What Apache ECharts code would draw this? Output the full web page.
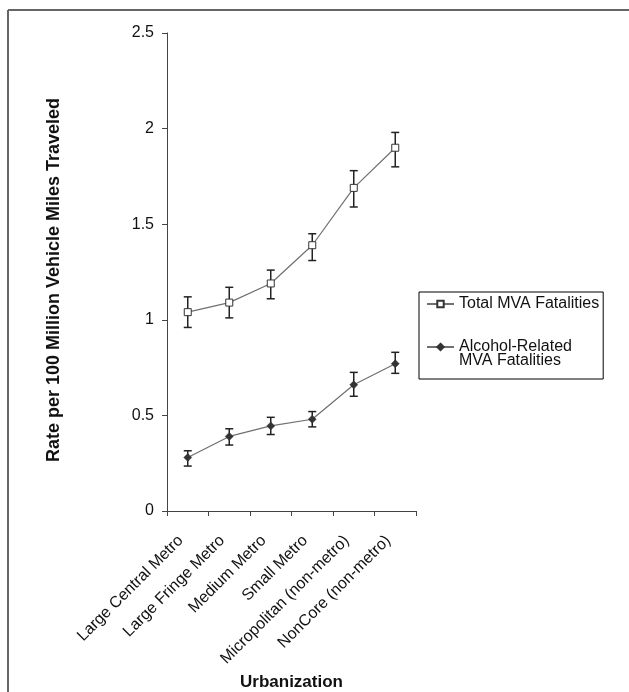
<!DOCTYPE html>
<html>
<head>
<meta charset="utf-8">
<script src="https://cdn.jsdelivr.net/npm/echarts@6/dist/echarts.min.js"></script>
<style>
html,body{margin:0;padding:0;background:#fff;}
#main{width:629px;height:692px;}
</style>
</head>
<body>
<div id="main"></div>
<script>
var categories = ['Large Central Metro', 'Large Fringe Metro', 'Medium Metro', 'Small Metro', 'Micropolitan (non-metro)', 'NonCore (non-metro)'];
var yTicks = [0, 0.5, 1, 1.5, 2, 2.5];
var totalRate = [1.04, 1.09, 1.19, 1.39, 1.69, 1.90];
var totalLow = [0.96, 1.01, 1.11, 1.31, 1.59, 1.80];
var totalHigh = [1.12, 1.17, 1.26, 1.45, 1.78, 1.98];
var alcRate = [0.28, 0.39, 0.445, 0.48, 0.66, 0.77];
var alcLow = [0.235, 0.345, 0.40, 0.44, 0.60, 0.72];
var alcHigh = [0.315, 0.43, 0.49, 0.52, 0.725, 0.83];

var FONT = "'Liberation Sans', Arial, sans-serif";

function errData(low, high) {
  return categories.map(function (c, i) { return [i, low[i], high[i]]; });
}
function renderErr(params, api) {
  var x = api.value(0);
  var lo = api.coord([x, api.value(1)]);
  var hi = api.coord([x, api.value(2)]);
  var hw = 4;
  var st = { stroke: '#222', lineWidth: 1.5, fill: null };
  return {
    type: 'group',
    children: [
      { type: 'line', shape: { x1: lo[0], y1: lo[1], x2: hi[0], y2: hi[1] }, style: st },
      { type: 'line', shape: { x1: lo[0] - hw, y1: lo[1], x2: lo[0] + hw, y2: lo[1] }, style: st },
      { type: 'line', shape: { x1: hi[0] - hw, y1: hi[1], x2: hi[0] + hw, y2: hi[1] }, style: st }
    ]
  };
}

var chart = echarts.init(document.getElementById('main'), null, { renderer: 'canvas' });
chart.setOption({
  animation: false,
  backgroundColor: '#fff',
  textStyle: { fontFamily: FONT },
  grid: { left: 167, top: 33, right: 213, bottom: 181, containLabel: false, outerBoundsMode: 'none' },
  graphic: [
    { type: 'line', shape: { x1: 8, y1: 10, x2: 629, y2: 10 }, style: { stroke: '#666', lineWidth: 2 } },
    { type: 'line', shape: { x1: 8, y1: 10, x2: 8, y2: 692 }, style: { stroke: '#666', lineWidth: 2 } }
  ],
  legend: {
    orient: 'vertical',
    left: 419,
    top: 292,
    padding: [4, 4, 10, 7],
    itemGap: 13,
    itemWidth: 27,
    itemHeight: 8,
    borderColor: '#000',
    borderWidth: 1,
    selectedMode: false,
    formatter: function (name) {
      return name.indexOf('\n') >= 0 ? '\n' + name : name;
    },
    textStyle: { fontFamily: FONT, fontSize: 16, color: '#111', lineHeight: 14 },
    data: ['Total MVA Fatalities', 'Alcohol-Related\nMVA Fatalities']
  },
  xAxis: {
    type: 'category',
    data: categories,
    boundaryGap: true,
    name: 'Urbanization',
    nameLocation: 'middle',
    nameGap: 160,
    nameTextStyle: { fontFamily: FONT, fontSize: 17, fontWeight: 'bold', color: '#111', verticalAlign: 'top' },
    axisLine: { show: true, lineStyle: { color: '#444', width: 1 } },
    axisTick: { show: true, length: 5, inside: false, lineStyle: { color: '#444' } },
    axisLabel: { interval: 0, rotate: 45, margin: 20, padding: [0, 10, 0, 0], fontSize: 16, color: '#111', fontFamily: FONT },
    splitLine: { show: false }
  },
  yAxis: {
    type: 'value',
    min: yTicks[0],
    max: yTicks[yTicks.length - 1],
    interval: 0.5,
    name: 'Rate per 100 Million Vehicle Miles Traveled',
    nameLocation: 'middle',
    nameGap: 104,
    nameTextStyle: { fontFamily: FONT, fontSize: 18, fontWeight: 'bold', color: '#111', padding: [0, 16, 0, 0] },
    axisLine: { show: true, lineStyle: { color: '#444', width: 1 } },
    axisTick: { show: true, length: 5, inside: false, lineStyle: { color: '#444' } },
    axisLabel: { margin: 13, fontSize: 16, color: '#111', fontFamily: FONT },
    splitLine: { show: false }
  },
  series: [
    {
      name: 'Total MVA Fatalities',
      type: 'line',
      data: totalRate,
      symbol: 'rect',
      symbolSize: 7,
      showAllSymbol: true,
      z: 5,
      lineStyle: { color: '#707070', width: 1.2 },
      itemStyle: { color: '#fff', borderColor: '#333', borderWidth: 1 }
    },
    {
      name: 'Alcohol-Related\nMVA Fatalities',
      type: 'line',
      data: alcRate,
      symbol: 'diamond',
      symbolSize: 8,
      showAllSymbol: true,
      z: 5,
      lineStyle: { color: '#707070', width: 1.2 },
      itemStyle: { color: '#333', borderColor: '#333', borderWidth: 0.5 }
    },
    {
      type: 'custom',
      renderItem: renderErr,
      data: errData(totalLow, totalHigh),
      z: 3,
      silent: true
    },
    {
      type: 'custom',
      renderItem: renderErr,
      data: errData(alcLow, alcHigh),
      z: 3,
      silent: true
    }
  ]
});
</script>
</body>
</html>
